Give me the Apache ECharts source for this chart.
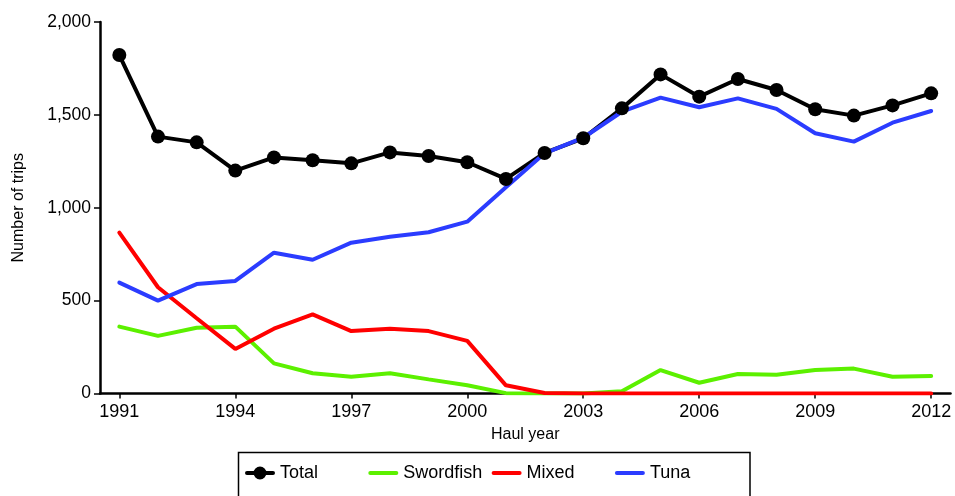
<!DOCTYPE html>
<html>
<head>
<meta charset="utf-8">
<script src="https://cdn.jsdelivr.net/npm/echarts@6/dist/echarts.min.js"></script>
<style>
  html, body { margin: 0; padding: 0; background: #fff; }
  #chart { width: 955px; height: 496px; }
</style>
</head>
<body>
<div id="chart"></div>
<script>
// Haul years on the category axis
const years = ['1991','1992','1993','1994','1995','1996','1997','1998','1999','2000','2001',
               '2002','2003','2004','2005','2006','2007','2008','2009','2010','2011','2012'];

// Number of trips per year
const total     = [1822,1383,1352,1200,1271,1256,1239,1298,1279,1245,1155,1295,1374,1535,1718,1598,1693,1634,1530,1496,1551,1616];
const swordfish = [360,310,354,360,162,109,90,109,76,44,2,0,0,12,126,58,105,101,126,134,90,94];
const mixed     = [866,572,405,240,349,426,336,349,336,283,44,3,0,0,0,0,0,0,0,0,0,0];
const tuna      = [597,500,589,606,758,720,812,844,868,925,1110,1293,1377,1517,1593,1541,1589,1532,1401,1356,1458,1521];

// Y axis ticks
const yTicks = [0, 500, 1000, 1500, 2000];

// Legend entries, left to right
const legendNames = ['Total', 'Swordfish', 'Mixed', 'Tuna'];

const FONT = 'Liberation Sans, Arial, sans-serif';
const chart = echarts.init(document.getElementById('chart'), null, { renderer: 'canvas' });

function lineSeries(name, data, color, withDots) {
  return {
    name: name,
    type: 'line',
    data: data,
    showSymbol: withDots,
    symbol: withDots ? 'circle' : 'none',
    symbolSize: 14,
    itemStyle: { color: color },
    lineStyle: { color: color, width: 4, cap: 'round' },
    emphasis: { disabled: true },
    animation: false
  };
}

// Legend icons: plain stroke, and stroke with a dot for the total
const strokeIcon = 'path://M2,0 H28 A2,2 0 0 1 28,4 H2 A2,2 0 0 1 2,0 Z';
const dotIcon = 'path://M2,5.5 H28 A2,2 0 0 1 28,9.5 H2 A2,2 0 0 1 2,5.5 Z ' +
                'M8.5,7.5 A6.5,6.5 0 1 1 21.5,7.5 A6.5,6.5 0 1 1 8.5,7.5 Z';

// One legend block per entry so the entries sit on an even pitch
const legendLeft = 245, legendPitch = 123.3;
const legends = legendNames.map((name, i) => ({
  left: legendLeft + i * legendPitch,
  top: 464,
  padding: 0,
  itemWidth: 30,
  itemHeight: 14,
  selectedMode: false,
  textStyle: { fontFamily: FONT, fontSize: 18, color: '#000' },
  data: [{ name: name, icon: i === 0 ? dotIcon : strokeIcon }]
}));

chart.setOption({
  backgroundColor: '#fff',
  animation: false,
  grid: { left: 100, right: 4.5, top: 22, bottom: 102.5, containLabel: false },
  legend: legends,
  graphic: [{
    type: 'rect',
    shape: { x: 238.5, y: 452.5, width: 511.5, height: 80 },
    style: { fill: 'none', stroke: '#000', lineWidth: 1.5 },
    silent: true
  }],
  xAxis: {
    type: 'category',
    data: years,
    boundaryGap: true,
    name: 'Haul year',
    nameLocation: 'middle',
    nameGap: 32,
    nameTextStyle: { fontFamily: FONT, fontSize: 16, color: '#000' },
    axisLine: { show: true, lineStyle: { color: '#000', width: 2.5 } },
    axisTick: { show: true, alignWithLabel: true, interval: 2, length: 5, lineStyle: { color: '#000', width: 1.5 } },
    axisLabel: { interval: 2, margin: 10, fontFamily: FONT, fontSize: 18, color: '#000' },
    splitLine: { show: false }
  },
  yAxis: {
    type: 'value',
    min: yTicks[0],
    max: yTicks[yTicks.length - 1],
    interval: 500,
    name: 'Number of trips',
    nameLocation: 'middle',
    nameRotate: 90,
    nameGap: 73,
    nameTextStyle: { fontFamily: FONT, fontSize: 16, color: '#000' },
    axisLine: { show: true, lineStyle: { color: '#000', width: 2.5 } },
    axisTick: { show: true, length: 6, lineStyle: { color: '#000', width: 1.5 } },
    axisLabel: {
      margin: 9, fontFamily: FONT, fontSize: 17.5, color: '#000',
      formatter: v => v.toLocaleString('en-US')
    },
    splitLine: { show: false }
  },
  series: [
    lineSeries('Total', total, '#000000', true),
    lineSeries('Swordfish', swordfish, '#5cf000', false),
    lineSeries('Mixed', mixed, '#ff0000', false),
    lineSeries('Tuna', tuna, '#2b3cff', false)
  ]
});
</script>
</body>
</html>
